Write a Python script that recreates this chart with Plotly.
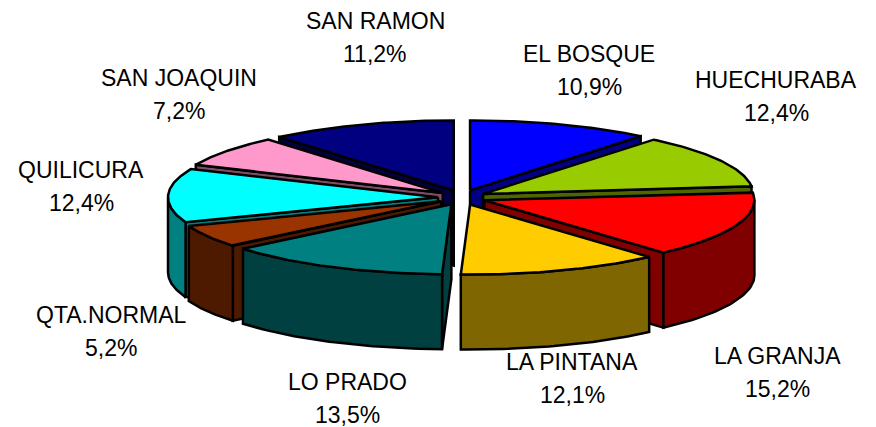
import numpy as np
import plotly.graph_objects as go

categories = ["EL BOSQUE", "HUECHURABA", "LA GRANJA", "LA PINTANA", "LO PRADO",
              "QTA.NORMAL", "QUILICURA", "SAN JOAQUIN", "SAN RAMON"]
shares = [10.9, 12.4, 15.2, 12.1, 13.5, 5.2, 12.4, 7.2, 11.2]

top_colors = ["#0000FF", "#99CC00", "#FF0000", "#FFCC00", "#008080",
              "#993300", "#00FFFF", "#FF99CC", "#000080"]
side_colors = ["#000080", "#4D6600", "#800000", "#806600", "#004040",
               "#4D1A00", "#008080", "#804D66", "#000040"]
# label centres (x, y of first line) in the 876x427 canvas
label_xy = [(589, 54), (776, 80), (777, 356), (572, 362), (347, 382),
            (111, 315), (81, 170), (179, 78), (375, 21)]
line_gap = 33
paint_order = [8, 0, 7, 1, 6, 2, 5, 3, 4]

CX, CY = 462, 197.5
RX, RY = 270, 70
EX, EY = 24, 7.5
DEPTH = 75

total = sum(shares)
edges = np.concatenate([[0], np.cumsum(shares)]) / total * 2 * np.pi

fig = go.Figure()


def poly(xs, ys, color):
    fig.add_trace(go.Scatter(
        x=list(xs) + [xs[0]], y=list(ys) + [ys[0]], mode="lines", fill="toself",
        fillcolor=color, line=dict(color="black", width=2.5), hoverinfo="skip",
        showlegend=False))


for i in paint_order:
    a0, a1 = edges[i], edges[i + 1]
    mid = (a0 + a1) / 2
    ax = CX + EX * np.sin(mid)
    ay = CY - EY * np.cos(mid)
    px = lambda t: ax + RX * np.sin(t)
    py = lambda t: ay - RY * np.cos(t)
    # radial walls that face the viewer
    for t, facing in ((a0, np.sin(a0) < 0), (a1, np.sin(a1) > 0)):
        if facing:
            poly([ax, px(t), px(t), ax],
                 [ay, py(t), py(t) + DEPTH, ay + DEPTH], side_colors[i])
    # outer wall
    lo, hi = max(a0, np.pi / 2), min(a1, 3 * np.pi / 2)
    if hi > lo:
        ts = np.linspace(lo, hi, 40)
        poly(list(px(ts)) + list(px(ts[::-1])),
             list(py(ts)) + list(py(ts[::-1]) + DEPTH), side_colors[i])
    # top face
    ts = np.linspace(a0, a1, 60)
    poly([ax] + list(px(ts)), [ay] + list(py(ts)), top_colors[i])

annotations = []
for name, val, (lx, ly) in zip(categories, shares, label_xy):
    pct = f"{val:.1f}%".replace(".", ",")
    for text, y in ((name, ly), (pct, ly + line_gap)):
        annotations.append(dict(x=lx, y=y, xref="x", yref="y", text=text, showarrow=False,
                                xanchor="center", yanchor="middle",
                                font=dict(family="Liberation Sans", size=23, color="black")))

fig.update_layout(
    width=876, height=427, margin=dict(l=0, r=0, t=0, b=0),
    paper_bgcolor="white", plot_bgcolor="white", showlegend=False,
    xaxis=dict(range=[0, 876], visible=False, fixedrange=True),
    yaxis=dict(range=[427, 0], visible=False, fixedrange=True),
    annotations=annotations,
)
fig.write_html("out.html", config={"displayModeBar": False},
               post_script="document.body.style.margin='0';document.body.style.overflow='hidden';")
